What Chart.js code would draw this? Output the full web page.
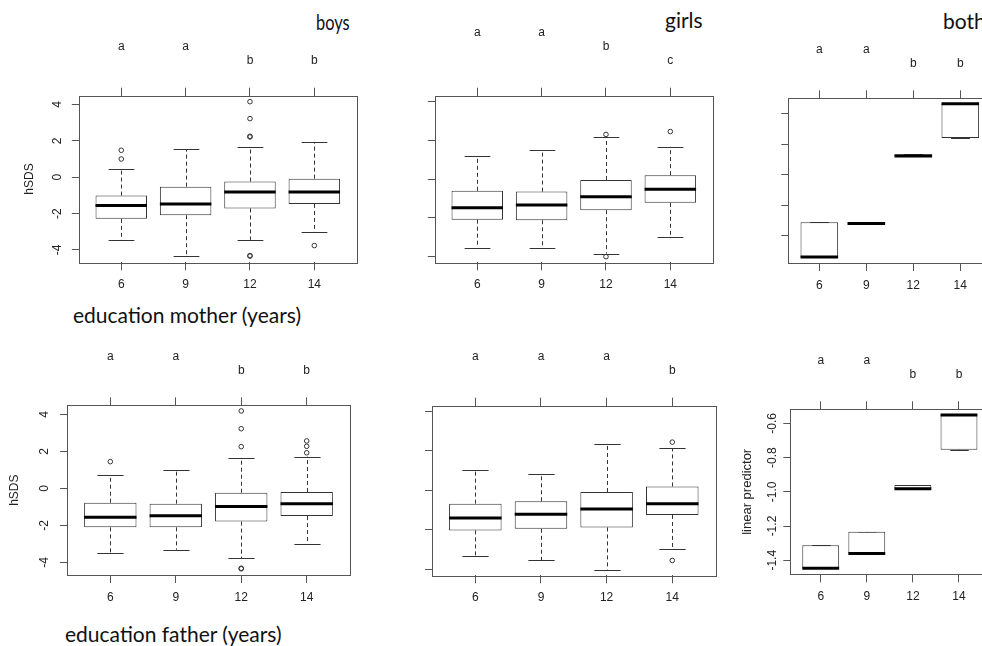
<!DOCTYPE html>
<html>
<head>
<meta charset="utf-8">
<script src="https://cdn.jsdelivr.net/npm/chart.js@4.4.1/dist/chart.umd.min.js"></script>
<style>
    body { margin: 0; background: #fff; width: 982px; height: 646px; position: relative; overflow: hidden; }
    canvas { position: absolute; left: 0; top: 0; }
    .ttl { position: absolute; font-family: Lato, "Open Sans", sans-serif; font-size: 21px; line-height: 26px; color: #111; white-space: nowrap; }
    .narrow { transform: scaleX(0.78); transform-origin: left center; }
</style>
</head>
<body>
<div class="ttl narrow" style="left:316px; top:9px;">boys</div>
<div class="ttl" style="left:665px; top:7px;">girls</div>
<div class="ttl" style="left:943px; top:8px;">both</div>
<div class="ttl" style="left:73px; top:302px;">education mother (years)</div>
<div class="ttl" style="left:65px; top:621px;">education father (years)</div>

<script>
const eduYears = ['6', '9', '12', '14'];

const hsdsTicks = [-4, -2, 0, 2, 4];
const hsdsTickLabels = ['-4', '-2', '0', '2', '4'];
const lpTicks = [-1.4, -1.2, -1.0, -0.8, -0.6];
const lpTickLabels = ['-1.4', '-1.2', '-1.0', '-0.8', '-0.6'];

// each box: [lower whisker, Q1, median, Q3, upper whisker]
const boysMother = [[-3.45, -2.29, -1.56, -1.01, 0.44], [-4.32, -2.09, -1.47, -0.52, 1.55], [-3.45, -1.72, -0.82, -0.24, 1.65], [-3.02, -1.47, -0.82, -0.08, 1.92]];
const boysMotherOut = [[1.0, 1.48], [], [4.15, 3.22, 2.25, 2.21, -4.34, -4.31], [-3.76]];
const boysMotherLetters = ['a', 'a', 'b', 'b'];

const girlsMother = [[-3.53, -2.09, -1.48, -0.60, 1.20], [-3.56, -2.12, -1.33, -0.64, 1.53], [-3.84, -1.60, -0.90, -0.04, 2.17], [-2.96, -1.22, -0.52, 0.21, 1.67]];
const girlsMotherOut = [[], [], [2.31, -4.0], [2.46]];
const girlsMotherLetters = ['a', 'a', 'b', 'c'];

const bothMother = [[-1.537, -1.537, -1.537, -1.31, -1.31], [-1.319, -1.319, -1.319, -1.319, -1.319], [-0.879, -0.879, -0.877, -0.866, -0.866], [-0.759, -0.759, -0.535, -0.535, -0.535]];
const bothMotherLetters = ['a', 'a', 'b', 'b'];

const boysFather = [[-3.48, -2.11, -1.57, -0.78, 0.70], [-3.32, -2.11, -1.48, -0.83, 0.99], [-3.78, -1.80, -0.99, -0.24, 1.65], [-3.03, -1.50, -0.83, -0.20, 1.71]];
const boysFatherOut = [[1.44], [], [4.18, 3.22, 2.25, -4.35, -4.32], [2.56, 2.27, 1.92]];
const boysFatherLetters = ['a', 'a', 'b', 'b'];

const girlsFather = [[-3.31, -2.03, -1.41, -0.68, 1.02], [-3.53, -1.95, -1.21, -0.56, 0.82], [-4.02, -1.88, -0.95, -0.09, 2.32], [-2.97, -1.25, -0.68, 0.19, 2.11]];
const girlsFatherOut = [[], [], [], [2.43, -3.55]];
const girlsFatherLetters = ['a', 'a', 'a', 'b'];

const bothFather = [[-1.447, -1.447, -1.447, -1.312, -1.312], [-1.361, -1.361, -1.361, -1.233, -1.233], [-0.982, -0.982, -0.982, -0.96, -0.96], [-0.754, -0.754, -0.552, -0.552, -0.552]];
const bothFatherLetters = ['a', 'a', 'b', 'b'];

const noOut = [[], [], [], []];

// plot boxes in page pixels: [left, top, right, bottom]
const panels = [
    { stats: boysMother, out: boysMotherOut, letters: boysMotherLetters, ticks: hsdsTicks, labels: hsdsTickLabels,
      area: [78.8, 95.7, 356.8, 262.3], ylim: [-4.68, 4.48], labOff: 21, title: 'hSDS', titleX: 30 },
    { stats: girlsMother, out: girlsMotherOut, letters: girlsMotherLetters, ticks: hsdsTicks, labels: null,
      area: [434.8, 95.7, 712.8, 262.3], ylim: [-4.29, 4.31] },
    { stats: bothMother, out: noOut, letters: bothMotherLetters, ticks: lpTicks, labels: null,
      area: [788.3, 98.3, 991.3, 263], ylim: [-1.577, -0.499] },
    { stats: boysFather, out: boysFatherOut, letters: boysFatherLetters, ticks: hsdsTicks, labels: hsdsTickLabels,
      area: [67.1, 405.3, 349.9, 575], ylim: [-4.686, 4.486], labOff: 22, title: 'hSDS', titleX: 15 },
    { stats: girlsFather, out: girlsFatherOut, letters: girlsFatherLetters, ticks: hsdsTicks, labels: null,
      area: [432.0, 405.7, 715.6, 575.3], ylim: [-4.30, 4.27] },
    { stats: bothFather, out: noOut, letters: bothFatherLetters, ticks: lpTicks, labels: lpTickLabels,
      area: [790.3, 409.3, 989.4, 574.3], ylim: [-1.482, -0.518], labOff: 18, title: 'linear predictor', titleX: 747.5, titleSize: 13 }
];

const tickFont = '12px "Liberation Sans", Arial, sans-serif';

function boxPlugin(p) {
    return {
        id: 'rbox',
        beforeDatasetsDraw(chart) {
            const ctx = chart.ctx;
            const y = chart.scales.y;
            const meta = chart.getDatasetMeta(0);
            ctx.save();
            ctx.strokeStyle = '#333';
            ctx.lineWidth = 1;
            p.stats.forEach((s, i) => {
                const bar = meta.data[i];
                const cx = Math.round(bar.x) + 0.5;
                const half = bar.width / 4;
                [[s[3], s[4]], [s[1], s[0]]].forEach(([from, to]) => {
                    ctx.setLineDash([4, 3]);
                    ctx.beginPath();
                    ctx.moveTo(cx, y.getPixelForValue(from));
                    ctx.lineTo(cx, y.getPixelForValue(to));
                    ctx.stroke();
                    ctx.setLineDash([]);
                    const yy = Math.round(y.getPixelForValue(to)) + 0.5;
                    ctx.beginPath();
                    ctx.moveTo(cx - half, yy);
                    ctx.lineTo(cx + half, yy);
                    ctx.stroke();
                });
            });
            ctx.restore();
        },
        afterDatasetsDraw(chart) {
            const ctx = chart.ctx;
            const x = chart.scales.x, y = chart.scales.y;
            const area = chart.chartArea;
            const meta = chart.getDatasetMeta(0);
            ctx.save();
            // medians
            ctx.strokeStyle = '#000';
            ctx.lineWidth = 3;
            p.stats.forEach((s, i) => {
                const bar = meta.data[i];
                const yy = y.getPixelForValue(s[2]);
                ctx.beginPath();
                ctx.moveTo(bar.x - bar.width / 2, yy);
                ctx.lineTo(bar.x + bar.width / 2, yy);
                ctx.stroke();
            });
            // frame
            ctx.strokeStyle = '#555';
            ctx.lineWidth = 1;
            ctx.strokeRect(Math.round(area.left) + 0.5, Math.round(area.top) + 0.5,
                Math.round(area.right - area.left), Math.round(area.bottom - area.top));
            // group letters
            ctx.fillStyle = '#222';
            ctx.font = tickFont;
            ctx.textAlign = 'center';
            ctx.textBaseline = 'middle';
            const levels = p.letters.map(l => l.charCodeAt(0) - 97);
            const top = Math.max(...levels);
            p.letters.forEach((l, i) => {
                ctx.fillText(l, x.getPixelForValue(i + 1), area.top - 35 - 14 * (top - levels[i]));
            });
            // rotated y labels
            if (p.labels) {
                p.ticks.forEach((v, i) => {
                    ctx.save();
                    ctx.translate(area.left - p.labOff, y.getPixelForValue(v));
                    ctx.rotate(-Math.PI / 2);
                    ctx.fillText(p.labels[i], 0, 0);
                    ctx.restore();
                });
                ctx.save();
                ctx.font = (p.titleSize || 12) + 'px "Liberation Sans", Arial, sans-serif';
                ctx.translate(p.titleX, (area.top + area.bottom) / 2);
                ctx.rotate(-Math.PI / 2);
                ctx.fillText(p.title, 0, 0);
                ctx.restore();
            }
            ctx.restore();
        }
    };
}

function drawPanel(p) {
    const canvas = document.createElement('canvas');
    canvas.width = 1000;
    canvas.height = 646;
    canvas.style.width = '1000px';
    canvas.style.height = '646px';
    document.body.appendChild(canvas);
    const [l, t, r, b] = p.area;
    const xTicks = s => { s.ticks = eduYears.map((_, i) => ({ value: i + 1 })); };
    const tickGrid = len => ({ drawOnChartArea: false, drawTicks: true, tickLength: len, color: '#555', lineWidth: 1, offset: false });

    new Chart(canvas, {
        type: 'bar',
        data: {
            datasets: [
                {
                    data: p.stats.map((s, i) => ({ x: i + 1, y: [s[1], s[3]] })),
                    backgroundColor: '#fff',
                    borderColor: '#333',
                    borderWidth: 1,
                    borderSkipped: false,
                    inflateAmount: 0,
                    barPercentage: 0.8,
                    categoryPercentage: 1
                },
                {
                    type: 'scatter',
                    data: p.out.flatMap((vals, i) => vals.map(v => ({ x: i + 1, y: v }))),
                    pointRadius: 2.3,
                    pointBorderWidth: 1,
                    pointBorderColor: '#333',
                    pointBackgroundColor: 'rgba(0,0,0,0)'
                }
            ]
        },
        options: {
            responsive: false,
            animation: false,
            devicePixelRatio: 1,
            events: [],
            layout: { padding: { left: l - 7, top: t - 8, right: 1000 - r, bottom: 646 - b - 40 } },
            plugins: { legend: { display: false }, tooltip: { enabled: false } },
            scales: {
                x: {
                    type: 'linear', min: 0.34, max: 4.66, offset: false,
                    afterBuildTicks: xTicks,
                    afterFit: s => { s.height = 40; },
                    ticks: {
                        callback: v => eduYears[v - 1],
                        color: '#222', font: { family: '"Liberation Sans", Arial, sans-serif', size: 12 },
                        padding: 7, autoSkip: false, maxRotation: 0
                    },
                    grid: tickGrid(8),
                    border: { display: false }
                },
                x2: {
                    type: 'linear', position: 'top', min: 0.34, max: 4.66, offset: false,
                    afterBuildTicks: xTicks,
                    afterFit: s => { s.height = 8; },
                    ticks: { display: false },
                    grid: tickGrid(8),
                    border: { display: false }
                },
                y: {
                    type: 'linear', min: p.ylim[0], max: p.ylim[1],
                    afterBuildTicks: s => { s.ticks = p.ticks.map(v => ({ value: v })); },
                    afterFit: s => { s.width = 7; },
                    ticks: { display: false },
                    grid: tickGrid(7),
                    border: { display: false }
                }
            }
        },
        plugins: [boxPlugin(p)]
    });
}

panels.forEach(drawPanel);
</script>
</body>
</html>
